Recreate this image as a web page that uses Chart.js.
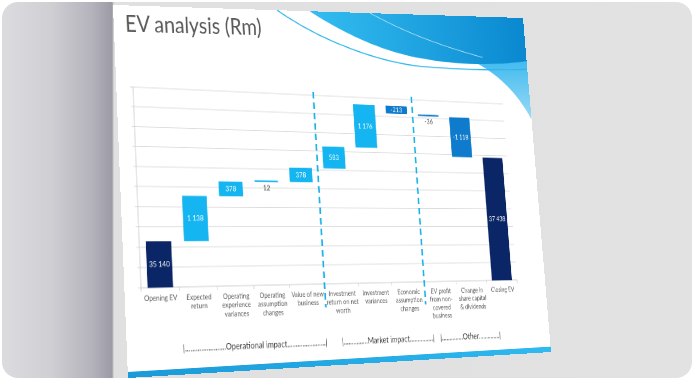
<!DOCTYPE html>
<html>
<head>
<meta charset="utf-8">
<script src="https://cdn.jsdelivr.net/npm/chart.js@4.4.1/dist/chart.umd.min.js"></script>
<style>
  body { margin: 0; width: 694px; height: 380px; background: #fff; overflow: hidden; position: relative; }
  #frame {
    position: absolute; left: 2px; top: 2px; width: 690px; height: 376px; border-radius: 16px;
    background: linear-gradient(90deg, #dcdcdf 0px, #cfced3 50px, #b4b2bb 90px, #9c9aa5 110px, #e0e0e0 112px, #e2e2e2 100%);
  }
  #slide { position: absolute; left: 0; top: 0; width: 640px; height: 450px; background: #fff; transform-origin: 0 0; overflow: hidden; }
  #deco { position: absolute; left: 0; top: 0; }
  #title { position: absolute; left: 16px; top: 5px; font-family: Lato, sans-serif; font-size: 28px; color: #585858; }
  #chart { position: absolute; left: 0; top: 0; transform-origin: 0 0; }
</style>
</head>
<body>
<div id="frame"></div>
<div id="slide">
  <svg id="deco" width="640" height="450">
    <defs>
      <linearGradient id="g1" x1="0" y1="0" x2="1" y2="0">
        <stop offset="0" stop-color="#33bdf0"/>
        <stop offset="1" stop-color="#0a88d0"/>
      </linearGradient>
      <linearGradient id="g2" x1="0" y1="0" x2="0" y2="1">
        <stop offset="0" stop-color="#3db9ee"/>
        <stop offset="1" stop-color="#9adaf6"/>
      </linearGradient>
      <linearGradient id="g3" x1="0" y1="0" x2="1" y2="0">
        <stop offset="0" stop-color="#1a9ad8"/>
        <stop offset="1" stop-color="#2fbaf0"/>
      </linearGradient>
    </defs>
    <path d="M545 60 C590 78 620 105 640 140 L640 55 Z" fill="url(#g2)"/>
    <path d="M290 0 C340 28 400 50 455 58 C525 68 590 66 640 60 L640 0 Z" fill="url(#g1)"/>
    <path d="M385 0 C430 20 480 38 565 56" stroke="#ffffff" stroke-width="1" fill="none" opacity="0.7"/>
    <path d="M240 0 C310 42 400 66 465 70 C545 74 600 73 640 71" stroke="#2bb5ec" stroke-width="1.5" fill="none"/>
    <rect x="0" y="443" width="640" height="7" fill="url(#g3)"/>
  </svg>
  <div id="title">EV analysis (Rm)</div>
</div>
<canvas id="chart" width="640" height="370"></canvas>
<script>
// chart data
const categories = [
  ['Opening EV'],
  ['Expected', 'return'],
  ['Operating', 'experience', 'variances'],
  ['Operating', 'assumption', 'changes'],
  ['Value of new', 'business'],
  ['Investment', 'return on net', 'worth'],
  ['Investment', 'variances'],
  ['Economic', 'assumption', 'changes'],
  ['EV profit', 'from non-', 'covered', 'business'],
  ['Change in', 'share capital', '& dividends'],
  ['Closing EV']
];
const values = [35140, 1138, 378, 12, 378, 583, 1176, -213, -36, -1118, 37438];
const isTotal = [true, false, false, false, false, false, false, false, false, false, true];
const yMin = 34000;
const yMax = 39000;
const yStep = 500;

const groupNames = ['Operational impact', 'Market impact', 'Other'];
const dividerAfter = [4, 7];

const colors = { total: '#0b2666', up: '#14b5f0', down: '#0f7bcc' };

// Map the rectangle (l,t,r,b) of an element onto a quad of the photo
function setPerspective(el, rect, q) {
  const [l, t, r, b] = rect;
  const w = r - l, h = b - t;
  const [x0, y0, x1, y1, x2, y2, x3, y3] = q;
  const dx1 = x1 - x2, dx2 = x3 - x2, dx3 = x0 - x1 + x2 - x3;
  const dy1 = y1 - y2, dy2 = y3 - y2, dy3 = y0 - y1 + y2 - y3;
  const den = dx1 * dy2 - dx2 * dy1;
  const g = (dx3 * dy2 - dx2 * dy3) / den;
  const k = (dx1 * dy3 - dx3 * dy1) / den;
  const a = x1 - x0 + g * x1, bb = x3 - x0 + k * x3, c = x0;
  const d = y1 - y0 + g * y1, e = y3 - y0 + k * y3, f = y0;
  const m = [a / w, d / w, 0, g / w, bb / h, e / h, 0, k / h, 0, 0, 1, 0, c, f, 0, 1];
  el.style.transform = 'matrix3d(' + m.join(',') + ') translate(' + (-l) + 'px,' + (-t) + 'px)';
}
setPerspective(document.getElementById('slide'), [0, 0, 640, 450], [113, 5, 523, 18, 551, 352, 128, 378]);

function fmt(v) {
  const s = Math.abs(v).toString().replace(/\B(?=(\d{3})+(?!\d))/g, ' ');
  return (v < 0 ? '-' : '') + s;
}

// waterfall ranges from the running total
let running = 0;
const ranges = values.map((v, i) => {
  if (isTotal[i]) { running = v; return [0, v]; }
  const r = [running, running + v];
  running += v;
  return r;
});
const barColors = values.map((v, i) => isTotal[i] ? colors.total : (v >= 0 ? colors.up : colors.down));

const barLabels = {
  id: 'barLabels',
  afterDatasetsDraw(chart) {
    const ctx = chart.ctx;
    const area = chart.chartArea;
    ctx.save();
    ctx.font = '9px Lato';
    ctx.textAlign = 'center';
    ctx.textBaseline = 'middle';
    chart.getDatasetMeta(0).data.forEach((bar, i) => {
      const top = Math.max(Math.min(bar.y, bar.base), area.top);
      const bottom = Math.min(Math.max(bar.y, bar.base), area.bottom);
      if (bottom - top > 6) {
        ctx.fillStyle = '#ffffff';
        ctx.fillText(fmt(values[i]), bar.x, (top + bottom) / 2);
      } else {
        ctx.fillStyle = '#404040';
        ctx.fillText(fmt(values[i]), bar.x, bottom + 7);
      }
    });
    ctx.restore();
  }
};

const groupLines = {
  id: 'groupLines',
  afterDraw(chart) {
    const ctx = chart.ctx;
    const area = chart.chartArea;
    const xs = chart.scales.x;
    const step = xs.getPixelForValue(1) - xs.getPixelForValue(0);
    ctx.save();
    // dashed dividers
    ctx.strokeStyle = '#1cb2ea';
    ctx.lineWidth = 2.6;
    ctx.setLineDash([8, 5]);
    dividerAfter.forEach(i => {
      const x = xs.getPixelForValue(i) + step / 2;
      ctx.beginPath();
      ctx.moveTo(x, area.top - 4);
      ctx.lineTo(x, area.bottom + 28);
      ctx.stroke();
    });
    // group captions, dots filled to the span
    const spans = [[2.5, 3.9], [6.3, 2.7], [8.85, 1.9]];
    ctx.setLineDash([]);
    ctx.font = '10.5px Lato';
    ctx.fillStyle = '#404040';
    ctx.textAlign = 'center';
    ctx.textBaseline = 'middle';
    groupNames.forEach((name, n) => {
      const cx = xs.getPixelForValue(0) + spans[n][0] * step;
      const width = spans[n][1] * step;
      let dots = '';
      while (ctx.measureText('|' + dots + name + dots + '|').width < width) dots += '.';
      ctx.fillText('|' + dots + name + dots + '|', cx, area.bottom + 70);
    });
    ctx.restore();
  }
};

Chart.defaults.font.family = 'Lato, sans-serif';

const chart = new Chart(document.getElementById('chart'), {
  type: 'bar',
  data: {
    labels: categories,
    datasets: [{
      data: ranges,
      backgroundColor: barColors,
      barPercentage: 0.66,
      categoryPercentage: 1,
      minBarLength: 2
    }]
  },
  options: {
    responsive: false,
    animation: false,
    devicePixelRatio: 2,
    layout: { padding: { left: 18, right: 42, top: 39, bottom: 48 } },
    plugins: { legend: { display: false }, tooltip: { enabled: false } },
    scales: {
      x: {
        grid: { display: true, drawOnChartArea: false, drawTicks: true, tickLength: 4, color: '#cfcfcf', offset: true },
        border: { color: '#cfcfcf' },
        ticks: { color: '#595959', font: { size: 8.5 }, maxRotation: 0, autoSkip: false, padding: 3 }
      },
      y: {
        min: yMin,
        max: yMax,
        grid: { color: '#dcdcdc', tickLength: 4 },
        border: { color: '#cfcfcf' },
        ticks: { display: false, stepSize: yStep }
      }
    }
  },
  plugins: [barLabels, groupLines]
});

// lay the plot area on the slide as in the photo
const area = chart.chartArea;
setPerspective(document.getElementById('chart'), [area.left, area.top, area.right, area.bottom],
  [133, 87, 503, 104, 517, 280, 141, 288]);
</script>
</body>
</html>
